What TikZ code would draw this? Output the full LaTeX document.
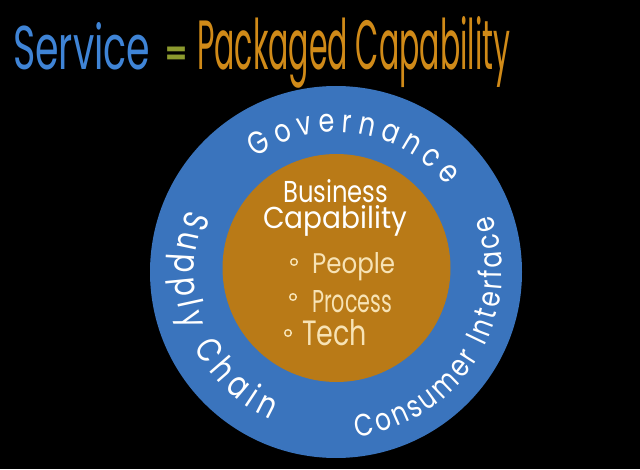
\documentclass[tikz,border=0pt]{standalone}
\usepackage{fontspec}
\setmainfont{Poppins}
\newfontfamily\ringfont{Poppins}[FakeStretch=0.8]
\usepackage{graphicx}
\usetikzlibrary{decorations.text}
\definecolor{ringblue}{HTML}{3A74BD}
\definecolor{coreorange}{HTML}{B97A17}
\definecolor{titleblue}{HTML}{3F84D6}
\definecolor{titleorange}{HTML}{D08A18}
\definecolor{eqgreen}{HTML}{8C9A2E}
\definecolor{cream}{HTML}{F7E3B5}
\begin{document}
\begin{tikzpicture}[x=1pt,y=1pt,
  titletext/.style={inner sep=0pt, anchor=base west},
  coretext/.style={inner sep=0pt, anchor=base west, text=white},
  listtext/.style={inner sep=0pt, anchor=base west, text=cream},
  bulletmark/.style={draw=cream, line width=1.4pt}
]
\fill[black] (0,0) rectangle (640,469);
\useasboundingbox (0,0) rectangle (640,469);

% title
\node[titletext, text=titleblue] (service) at (13,399) {\resizebox{137pt}{47pt}{Service}};
\node[text=eqgreen, inner sep=0pt] (equals) at (176.5,413) {\resizebox{22pt}{!}{\bfseries =}};
\node[titletext, text=titleorange] (packaged) at (197,399) {\resizebox{313pt}{53pt}{Packaged Capability}};

% circles
\node[circle, fill=ringblue, minimum size=372pt, inner sep=0pt] (outer) at (336,197) {};
\node[circle, fill=coreorange, minimum size=228pt, inner sep=0pt] (core) at (336.5,201) {};

% ring labels
\path[decorate, decoration={text along path, text align={fit to path},
  text={|\ringfont\fontsize{32}{32}\selectfont\color{white}|Governance}}]
  (outer.center) ++(125:140) arc[start angle=125, end angle=38, radius=140];
\path[decorate, decoration={text along path, text align={fit to path},
  text={|\ringfont\fontsize{35}{35}\selectfont\color{white}|Supply Chain}}]
  (outer.center) ++(157:161) arc[start angle=157, end angle=246, radius=161];
\path[decorate, decoration={text along path, text align={fit to path},
  text={|\ringfont\fontsize{31}{31}\selectfont\color{white}|Consumer Interface}}]
  (outer.center) ++(277:166) arc[start angle=277, end angle=380, radius=166];

% core text
\node[coretext] (business) at (283,266) {\resizebox{105pt}{23pt}{Business}};
\node[coretext] (capability) at (263,240) {\resizebox{144pt}{23pt}{Capability}};
\node[listtext] (people) at (312,196) {\resizebox{83pt}{21pt}{People}};
\node[listtext] (process) at (312,157) {\resizebox{80pt}{22pt}{Process}};
\node[listtext] (tech) at (302,124) {\resizebox{65pt}{26pt}{Tech}};
\draw[bulletmark] (294,207) circle (3.3);
\draw[bulletmark] (293,172) circle (3.3);
\draw[bulletmark] (288,136) circle (3.3);
\end{tikzpicture}
\end{document}
